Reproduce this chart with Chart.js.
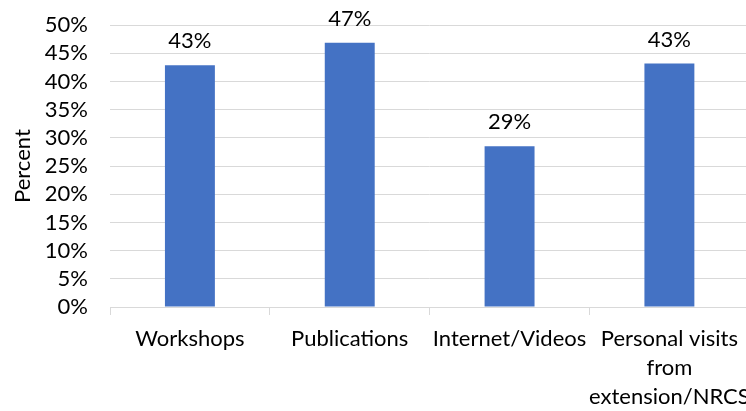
<!DOCTYPE html>
<html>
<head>
<meta charset="utf-8">
<style>
  html, body { margin: 0; padding: 0; background: #fff; overflow: hidden; }
  #wrap { width: 760px; height: 421px; margin-top: -10px; }
</style>
<script src="https://cdn.jsdelivr.net/npm/chart.js@4/dist/chart.umd.min.js"></script>
</head>
<body>
<div id="wrap"><canvas id="chart" width="760" height="421"></canvas></div>
<script>
// Information sources and the share of respondents using each
const categories = [
  "Workshops",
  "Publications",
  "Internet/Videos",
  ["Personal visits", "from", "extension/NRCS"],
];
const percentValues = [42.9, 46.9, 28.5, 43.2];
const yTicks = [0, 5, 10, 15, 20, 25, 30, 35, 40, 45, 50];

const FONT = "Lato, 'Open Sans', sans-serif";
const FONT_SIZE = 22;
const GRID = "#d9d9d9";

// Draw rounded value labels above each bar
const barLabels = {
  id: "barLabels",
  afterDatasetsDraw(chart) {
    const ctx = chart.ctx;
    const meta = chart.getDatasetMeta(0);
    ctx.save();
    ctx.font = FONT_SIZE + "px " + FONT;
    ctx.fillStyle = "#000";
    ctx.textAlign = "center";
    ctx.textBaseline = "middle";
    meta.data.forEach((bar, i) => {
      const v = chart.data.datasets[0].data[i];
      ctx.fillText(Math.round(v) + "%", bar.x, bar.y - 24);
    });
    ctx.restore();
  },
};

const ctx = document.getElementById("chart");
new Chart(ctx, {
  type: "bar",
  data: {
    labels: categories,
    datasets: [
      {
        data: percentValues,
        backgroundColor: "#4472C4",
        categoryPercentage: 1,
        barPercentage: 0.3125,
      },
    ],
  },
  options: {
    responsive: false,
    animation: false,
    layout: { padding: { top: 0, right: 10, left: 0, bottom: 0 } },
    plugins: {
      legend: { display: false },
      tooltip: { enabled: false },
    },
    scales: {
      x: {
        grid: {
          display: true,
          drawOnChartArea: false,
          drawTicks: true,
          tickLength: 8,
          color: GRID,
          offset: true,
        },
        border: { color: GRID, width: 1 },
        ticks: {
          color: "#000",
          font: { family: FONT, size: FONT_SIZE, lineHeight: 1.32 },
          autoSkip: false,
          maxRotation: 0,
          padding: 9,
        },
        afterFit(scale) {
          scale.height = 104;
        },
      },
      y: {
        min: 0,
        max: 50,
        afterBuildTicks(scale) {
          scale.ticks = yTicks.map((v) => ({ value: v }));
        },
        grid: { color: GRID, drawTicks: false },
        border: { display: false },
        ticks: {
          color: "#000",
          font: { family: FONT, size: FONT_SIZE },
          autoSkip: false,
          padding: 22,
          callback: (v) => v + "%",
        },
        title: {
          display: true,
          text: "Percent",
          color: "#000",
          font: { family: FONT, size: FONT_SIZE },
          padding: { top: 10, bottom: 0 },
        },
        afterFit(scale) {
          scale.width = 110;
        },
      },
    },
  },
  plugins: [barLabels],
});
</script>
</body>
</html>
